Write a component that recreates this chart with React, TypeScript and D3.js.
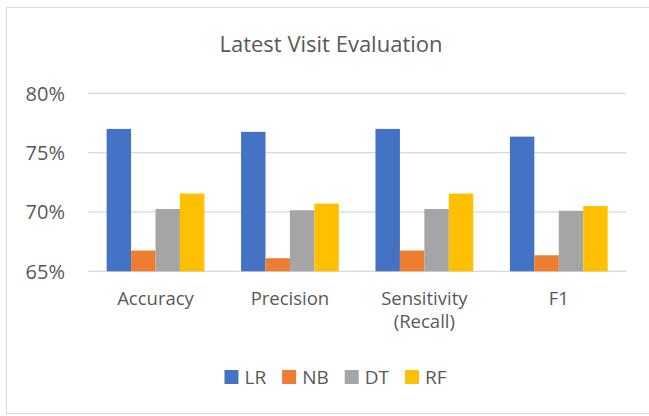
import React, { useEffect, useRef } from "react";
import * as d3 from "d3";

const categories = ["Accuracy", "Precision", "Sensitivity (Recall)", "F1"];
const seriesNames = ["LR", "NB", "DT", "RF"];
const seriesColors = ["#4472C4", "#ED7D31", "#A5A5A5", "#FFC000"];
const lrValues = [0.770, 0.7675, 0.770, 0.7635];
const nbValues = [0.6675, 0.661, 0.6675, 0.6635];
const dtValues = [0.7025, 0.7015, 0.7025, 0.701];
const rfValues = [0.7155, 0.707, 0.7155, 0.705];
const yTicks = [0.65, 0.7, 0.75, 0.8];
const title = "Latest Visit Evaluation";

const W = 649;
const H = 416;
const FONT = "'Open Sans', sans-serif";
const TEXT = "#595959";

export default function App() {
  const ref = useRef<SVGSVGElement>(null);
  useEffect(() => {
    const svg = d3.select(ref.current);
    svg.selectAll("*").remove();
    const series = [lrValues, nbValues, dtValues, rfValues];

    svg.append("rect").attr("x", 6.5).attr("y", 7.5).attr("width", 650).attr("height", 406)
      .attr("fill", "#fff").attr("stroke", "#d9d9d9").attr("stroke-width", 1);

    svg.append("text").attr("x", 331).attr("y", 52).attr("text-anchor", "middle")
      .attr("font-family", FONT).attr("font-size", 22).attr("fill", TEXT).text(title);

    const left = 88.3, right = 626, top = 93.3, bottom = 271.3;
    const y = d3.scaleLinear().domain([0.65, 0.8]).range([bottom, top]);
    const x0 = d3.scaleBand().domain(categories).range([left, right]).padding(0);
    const bw = x0.bandwidth();
    const barW = bw / 5.5;
    const x1 = d3.scaleBand().domain(seriesNames).range([barW * 0.75, barW * 4.75]).padding(0);

    const g = svg.append("g");
    g.selectAll("line.grid").data(yTicks).enter().append("line")
      .attr("x1", left).attr("x2", right).attr("y1", (d) => y(d)).attr("y2", (d) => y(d))
      .attr("stroke", "#d9d9d9").attr("stroke-width", 1.3);
    g.selectAll("text.tick").data(yTicks).enter().append("text")
      .attr("x", 65).attr("y", (d) => y(d)).attr("dy", "0.36em").attr("text-anchor", "end")
      .attr("font-family", FONT).attr("font-size", 20).attr("fill", TEXT)
      .text((d) => d3.format(".0%")(d));

    series.forEach((vals, si) => {
      g.selectAll(null).data(vals).enter().append("rect")
        .attr("x", (_, i) => (x0(categories[i]) as number) + (x1(seriesNames[si]) as number))
        .attr("width", x1.bandwidth())
        .attr("y", (d) => y(d))
        .attr("height", (d) => y(0.65) - y(d))
        .attr("fill", seriesColors[si]);
    });

    categories.forEach((c) => {
      const cx = (x0(c) as number) + bw / 2;
      const parts = c === "Sensitivity (Recall)" ? ["Sensitivity", "(Recall)"] : [c];
      parts.forEach((p, i) => {
        g.append("text").attr("text-anchor", "middle").attr("font-family", FONT)
          .attr("font-size", 18.5).attr("fill", TEXT)
          .attr("x", cx).attr("y", 305 + i * 23).text(p);
      });
    });

    // legend
    const lg = svg.append("g");
    let cursor = 0;
    seriesNames.forEach((n, i) => {
      const it = lg.append("g");
      it.append("rect").attr("x", cursor).attr("y", 370).attr("width", 14).attr("height", 14)
        .attr("fill", seriesColors[i]);
      const t = it.append("text").attr("x", cursor + 20).attr("y", 384)
        .attr("font-family", FONT).attr("font-size", 19).attr("fill", TEXT).text(n);
      const tw = (t.node() as SVGTextElement).getComputedTextLength();
      cursor += 20 + tw + (i < seriesNames.length - 1 ? 16 : 0);
    });
    lg.attr("transform", `translate(${335.5 - cursor / 2},0)`);
  }, []);

  return (
    <svg ref={ref} width={W} height={H}
      style={{ position: "absolute", left: 0, top: 0, background: "#fff" }} />
  );
}
